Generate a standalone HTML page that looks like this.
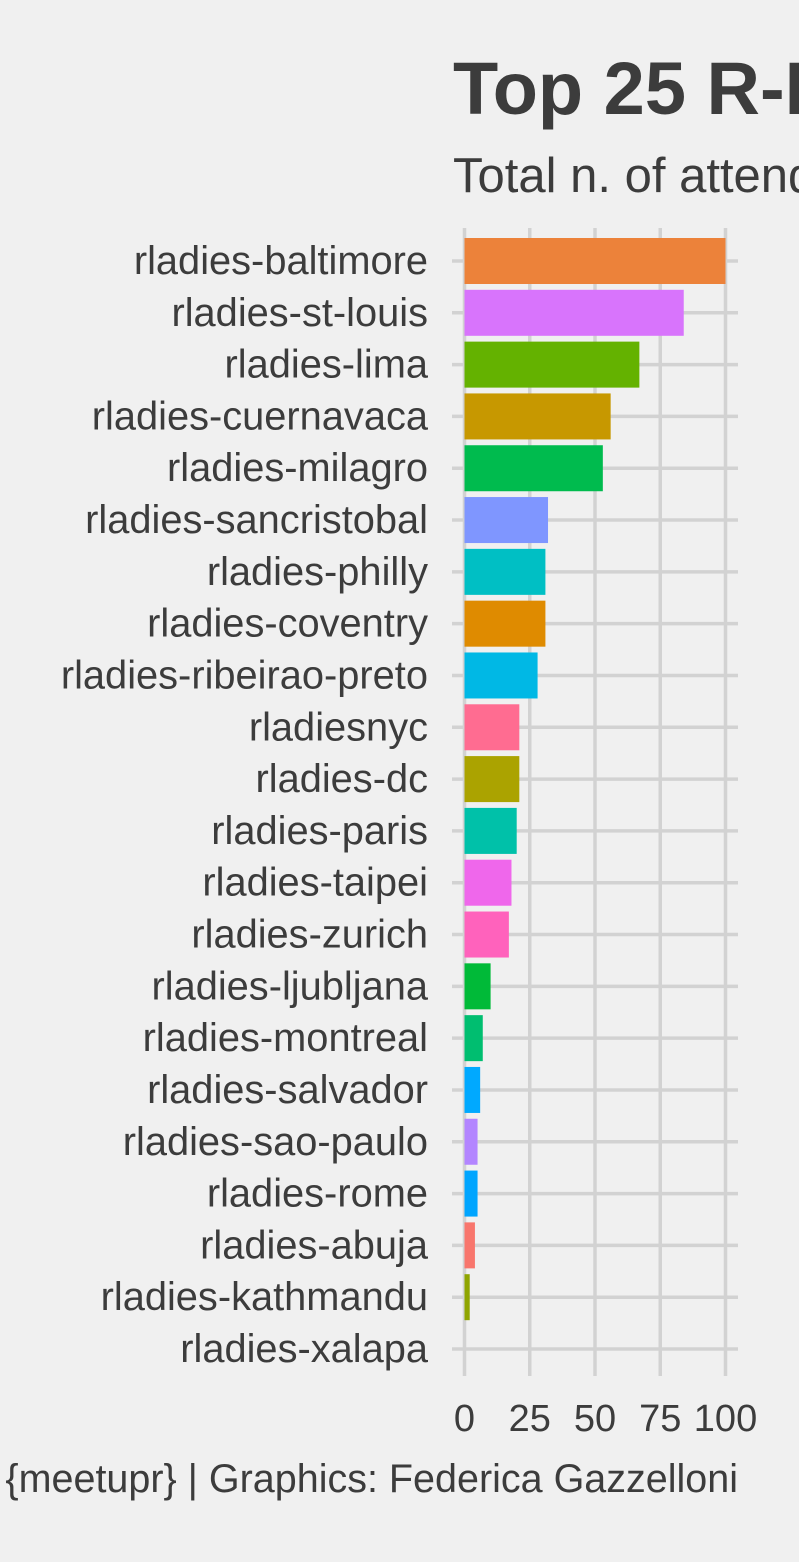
<!DOCTYPE html>
<html><head><meta charset="utf-8"><style>
html,body{margin:0;padding:0;background:#f0f0f0;}
body{width:799px;height:1562px;overflow:hidden;}
svg{display:block;font-family:"Liberation Sans",Helvetica,Arial,sans-serif;}
</style></head><body>
<svg id="chart" width="799" height="1562" viewBox="0 0 799 1562">
<rect x="0" y="0" width="799" height="1562" fill="#f0f0f0"/>
<text x="453" y="114" font-size="74" font-weight="bold" fill="#3c3c3c">Top 25 R-Ladies chapters</text>
<text x="453" y="192" font-size="49" fill="#3c3c3c">Total n. of attendees</text>
<g id="grid"></g><g id="bars"></g><g id="ylabels"></g><g id="xticks"></g>
<text x="738" y="1492" font-size="39.5" fill="#3c3c3c" text-anchor="end">Source: {meetupr} | Graphics: Federica Gazzelloni</text>
</svg>
<script>
const categories=["rladies-baltimore","rladies-st-louis","rladies-lima","rladies-cuernavaca","rladies-milagro","rladies-sancristobal","rladies-philly","rladies-coventry","rladies-ribeirao-preto","rladiesnyc","rladies-dc","rladies-paris","rladies-taipei","rladies-zurich","rladies-ljubljana","rladies-montreal","rladies-salvador","rladies-sao-paulo","rladies-rome","rladies-abuja","rladies-kathmandu","rladies-xalapa"];
const values=[100,84,67,56,53,32,31,31,28,21,21,20,18,17,10,7,6,5,5,4,2,0];
const colors=["#ec823a","#d874fc","#64b200","#c79800","#00bb4e","#7f96ff","#00bfc4","#df8b00","#00b8e5","#ff6c91","#aba300","#00c1a9","#ef67eb","#ff62bc","#00ba38","#00be70","#00a9ff","#b385ff","#00a5ff","#f8766d","#8fa500","#e9842c"];
const ticks=[0,25,50,75,100];
const NS="http://www.w3.org/2000/svg";
const X0=464.5,X1=725.5,PTOP=228,PBOT=1376,Y0=261,STEP=(1349-261)/21,BH=46;
const sx=v=>X0+(v/100)*(X1-X0);
const sy=i=>Y0+i*STEP;
function mk(tag,attrs,parent){const e=document.createElementNS(NS,tag);for(const k in attrs)e.setAttribute(k,attrs[k]);document.getElementById(parent).appendChild(e);return e;}
ticks.forEach(t=>{
  const l=mk("line",{x1:sx(t),x2:sx(t),y1:PTOP,y2:PBOT,stroke:"#d2d2d2","stroke-width":3.5},"grid");
  
  
  const tx=mk("text",{x:sx(t),y:1431,"font-size":38,fill:"#3c3c3c","text-anchor":"middle"},"xticks");
  tx.textContent=t;
  
  
});
categories.forEach((c,i)=>{
  const g=mk("line",{x1:452,x2:738,y1:sy(i),y2:sy(i),stroke:"#d2d2d2","stroke-width":3.5},"grid");
  
  
});
categories.forEach((c,i)=>{
  if(values[i]>0){
    const r=mk("rect",{x:sx(0),y:sy(i)-BH/2,width:sx(values[i])-sx(0),height:BH,fill:colors[i]},"bars");
    
    
  }
  const t=mk("text",{x:428,y:sy(i)+13,"font-size":39.8,fill:"#3c3c3c","text-anchor":"end"},"ylabels");
  t.textContent=c;
  
  
});
</script>
</body></html>
